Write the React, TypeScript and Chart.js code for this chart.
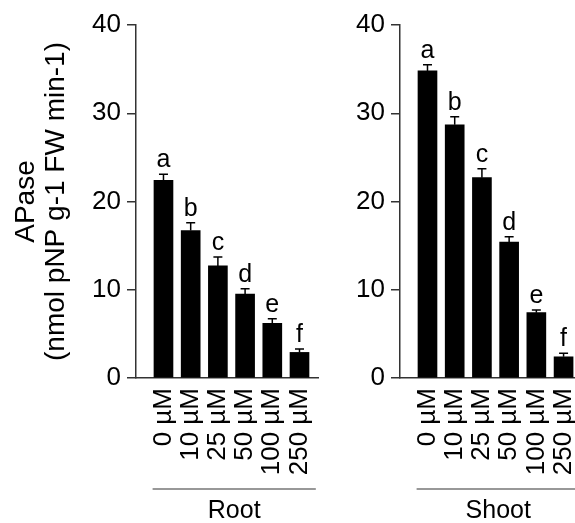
import React, { useEffect, useRef } from 'react';
import { Chart, registerables } from 'chart.js';

Chart.register(...registerables);

const FONT = "'Liberation Sans', Arial, sans-serif";

const concentrations = ['0 µM', '10 µM', '25 µM', '50 µM', '100 µM', '250 µM'];
const letters = ['a', 'b', 'c', 'd', 'e', 'f'];
const rootValues = [22.4, 16.7, 12.7, 9.5, 6.2, 2.9];
const rootErrors = [0.7, 0.9, 1.0, 0.6, 0.5, 0.4];
const shootValues = [34.8, 28.7, 22.7, 15.4, 7.4, 2.4];
const shootErrors = [0.7, 0.9, 1.0, 0.6, 0.3, 0.4];
const yMin = 0;
const yMax = 40;
const yStep = 10;
const yTitle = ['APase', '(nmol pNP g-1 FW min-1)'];
const groupNames = ['Root', 'Shoot'];

type PanelSpec = {
  values: number[];
  errors: number[];
  group: string;
  yAxisWidth: number;
  xMin: number;
  xMax: number;
  showTitle: boolean;
  padRight: number;
};

function annotatePlugin(values: number[], errors: number[], group: string) {
  return {
    id: 'annot',
    afterDatasetsDraw(chart: any) {
      const { ctx, scales } = chart;
      const x = scales.x;
      const y = scales.y;
      ctx.save();
      ctx.strokeStyle = '#000';
      ctx.fillStyle = '#000';
      ctx.lineWidth = 1.5;
      values.forEach((v, i) => {
        const px = x.getPixelForValue(i);
        const top = y.getPixelForValue(v + errors[i]);
        const base = y.getPixelForValue(v);
        ctx.beginPath();
        ctx.moveTo(px, base);
        ctx.lineTo(px, top);
        ctx.moveTo(px - 4.5, top);
        ctx.lineTo(px + 4.5, top);
        ctx.stroke();
        ctx.font = `25px ${FONT}`;
        ctx.textAlign = 'center';
        ctx.textBaseline = 'alphabetic';
        ctx.fillText(letters[i], px, top - 7);
      });
      const l = x.getPixelForValue(-0.4);
      const r = x.getPixelForValue(5.6);
      const ly = chart.chartArea.bottom + 111;
      ctx.strokeStyle = '#333';
      ctx.lineWidth = 1.2;
      ctx.beginPath();
      ctx.moveTo(l, ly);
      ctx.lineTo(r, ly);
      ctx.stroke();
      ctx.font = `25px ${FONT}`;
      ctx.textAlign = 'center';
      ctx.textBaseline = 'middle';
      ctx.fillText(group, (l + r) / 2, ly + 22);
      ctx.restore();
    },
  };
}

function Panel({ spec, left, width }: { spec: PanelSpec; left: number; width: number }) {
  const ref = useRef<HTMLCanvasElement | null>(null);
  useEffect(() => {
    if (!ref.current) return;
    const chart = new Chart(ref.current, {
      type: 'bar',
      data: {
        datasets: [
          {
            data: spec.values.map((v, i) => ({ x: i, y: v })),
            backgroundColor: '#000',
            borderWidth: 0,
            barThickness: 19,
          } as any,
        ],
      },
      options: {
        animation: false,
        responsive: false,
        maintainAspectRatio: false,
        layout: { padding: { left: 0, right: spec.padRight, top: 25, bottom: 0 } },
        plugins: { legend: { display: false }, tooltip: { enabled: false }, title: { display: false } },
        scales: {
          x: {
            type: 'linear',
            min: spec.xMin,
            max: spec.xMax,
            offset: false,
            afterBuildTicks: (axis: any) => {
              axis.ticks = concentrations.map((_, i) => ({ value: i }));
            },
            afterFit: (scale: any) => {
              scale.height = 145;
              scale.paddingLeft = 0;
              scale.paddingRight = 0;
            },
            ticks: {
              autoSkip: false,
              minRotation: 90,
              maxRotation: 90,
              padding: 10,
              color: '#000',
              font: { family: FONT, size: 26 },
              callback: (value: any) => concentrations[Math.round(Number(value))] ?? '',
            },
            grid: { display: false, drawTicks: false },
            border: { display: true, color: '#333', width: 1.5 },
          },
          y: {
            type: 'linear',
            min: yMin,
            max: yMax,
            afterFit: (scale: any) => {
              scale.width = spec.yAxisWidth;
            },
            ticks: {
              stepSize: yStep,
              padding: 6,
              color: '#000',
              font: { family: FONT, size: 26 },
            },
            grid: {
              display: true,
              drawOnChartArea: false,
              drawTicks: true,
              tickLength: 9,
              color: '#333',
              lineWidth: 1.5,
            },
            border: { display: true, color: '#333', width: 1.5 },
            title: {
              display: spec.showTitle,
              text: yTitle,
              color: '#000',
              font: { family: FONT, size: 28, lineHeight: 1.05 },
              padding: { top: 12, bottom: 0 },
            },
          },
        },
      },
      plugins: [annotatePlugin(spec.values, spec.errors, spec.group)],
    } as any);
    return () => chart.destroy();
  }, []);
  return (
    <canvas
      ref={ref}
      width={width}
      height={523}
      style={{ position: 'absolute', left, top: 0, width, height: 523 }}
    />
  );
}

export default function App() {
  const rootSpec: PanelSpec = {
    values: rootValues,
    errors: rootErrors,
    group: groupNames[0],
    yAxisWidth: 136,
    xMin: -1.01,
    xMax: 5.68,
    showTitle: true,
    padRight: 12,
  };
  const shootSpec: PanelSpec = {
    values: shootValues,
    errors: shootErrors,
    group: groupNames[1],
    yAxisWidth: 70,
    xMin: -1.01,
    xMax: 5.42,
    showTitle: false,
    padRight: 0,
  };
  return (
    <div style={{ position: 'fixed', left: 0, top: 0, width: 575, height: 523, background: '#fff' }}>
      <Panel spec={rootSpec} left={0} width={330} />
      <Panel spec={shootSpec} left={330} width={245} />
    </div>
  );
}
